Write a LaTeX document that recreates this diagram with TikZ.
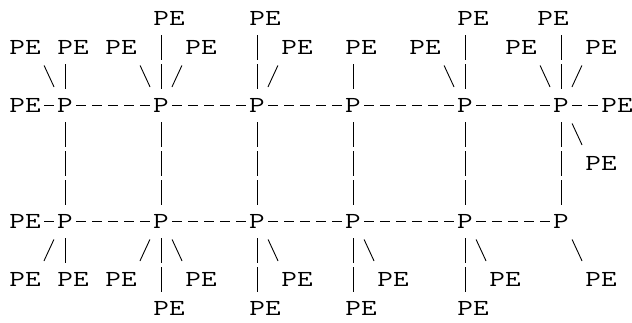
\documentclass[tikz,border=0pt]{standalone}
\usepackage{graphicx}
\newcommand{\asc}[1]{\scalebox{1.32}[1]{#1}}
\tikzset{
  glyph/.style={inner sep=0pt, outer sep=0pt, text height=14pt, text depth=0pt, anchor=base,
                font=\fontsize{23}{28}\selectfont\ttfamily},
  pnode/.style={glyph, minimum width=16pt},
  penode/.style={glyph, minimum width=32pt},
  conn/.style={line width=0.9pt, black},
  hdash/.style={conn, shorten <=3pt, shorten >=3pt, dash pattern=on 10pt off 6pt},
  vpipe/.style={conn, shorten <=9.5pt, shorten >=9.5pt, dash pattern=on 25pt off 4pt},
  diag/.style={conn, shorten <=12.1pt, shorten >=12.7pt},
}
\begin{document}
\begin{tikzpicture}[x=1pt,y=1pt]
\useasboundingbox (0,0) rectangle (632,-322);
% P nodes, top row (line 4) and bottom row (line 8)
\foreach \n/\c in {1/3,2/9,3/15,4/21,5/28,6/34}{
  \node[pnode] (pa\n) at ({16*\c+17},{-25.5-29*3}) {\asc{P}};
  \node[pnode] (pb\n) at ({16*\c+17},{-25.5-29*7}) {\asc{P}};
}
% PE nodes: name/start column/line
\foreach \n/\c/\l in {t1/9/1,t2/15/1,t3/28/1,t4/33/1,
  a1/0/2,a2/3/2,a3/6/2,a4/11/2,a5/17/2,a6/21/2,a7/25/2,a8/31/2,a9/36/2,
  l4/0/4,r4/37/4,r6/36/6,l8/0/8,
  b1/0/10,b2/3/10,b3/6/10,b4/11/10,b5/17/10,b6/23/10,b7/30/10,b8/36/10,
  u1/9/11,u2/15/11,u3/21/11,u4/28/11}{
  \node[penode] (\n) at ({16*\c+25},{-25.5-29*(\l-1)}) {\asc{PE}};
}
% horizontal links
\draw[hdash] (l4) -- (pa1);
\draw[hdash] (pa1) -- (pa2);
\draw[hdash] (pa2) -- (pa3);
\draw[hdash] (pa3) -- (pa4);
\draw[hdash] (pa4) -- (pa5);
\draw[hdash] (pa5) -- (pa6);
\draw[hdash] (pa6) -- (r4);
\draw[hdash] (l8) -- (pb1);
\draw[hdash] (pb1) -- (pb2);
\draw[hdash] (pb2) -- (pb3);
\draw[hdash] (pb3) -- (pb4);
\draw[hdash] (pb4) -- (pb5);
\draw[hdash] (pb5) -- (pb6);
% vertical links between rows
\foreach \n in {1,...,6}{ \draw[vpipe] (pa\n.south) -- (pb\n.north); }
% top pipes
\draw[vpipe] (t1.south -| pa2) -- (pa2.north);
\draw[vpipe] (t2.south -| pa3) -- (pa3.north);
\draw[vpipe] (t3.south -| pa5) -- (pa5.north);
\draw[vpipe] (t4.south -| pa6) -- (pa6.north);
\draw[vpipe] (a2.south -| pa1) -- (pa1.north);
\draw[vpipe] (a6.south -| pa4) -- (pa4.north);
% top diagonals
\draw[diag] ([xshift=-2pt]a1.south east) -- ([xshift=2.4pt]pa1.north west);
\draw[diag] ([xshift=-2pt]a3.south east) -- ([xshift=2.4pt]pa2.north west);
\draw[diag] ([xshift=2pt]a4.south west) -- ([xshift=-2.4pt]pa2.north east);
\draw[diag] ([xshift=2pt]a5.south west) -- ([xshift=-2.4pt]pa3.north east);
\draw[diag] ([xshift=-2pt]a7.south east) -- ([xshift=2.4pt]pa5.north west);
\draw[diag] ([xshift=-2pt]a8.south east) -- ([xshift=2.4pt]pa6.north west);
\draw[diag] ([xshift=2pt]a9.south west) -- ([xshift=-2.4pt]pa6.north east);
% right diagonal
\draw[diag] ([xshift=-2pt]pa6.south east) -- ([xshift=2.4pt]r6.north west);
% bottom diagonals
\draw[diag] ([xshift=2pt]pb1.south west) -- ([xshift=-2.4pt]b1.north east);
\draw[diag] ([xshift=2pt]pb2.south west) -- ([xshift=-2.4pt]b3.north east);
\draw[diag] ([xshift=-2pt]pb2.south east) -- ([xshift=2.4pt]b4.north west);
\draw[diag] ([xshift=-2pt]pb3.south east) -- ([xshift=2.4pt]b5.north west);
\draw[diag] ([xshift=-2pt]pb4.south east) -- ([xshift=2.4pt]b6.north west);
\draw[diag] ([xshift=-2pt]pb5.south east) -- ([xshift=2.4pt]b7.north west);
\draw[diag] ([xshift=-2pt]pb6.south east) -- ([xshift=2.4pt]b8.north west);
% bottom pipes
\draw[vpipe] (pb1.south) -- (b2.north -| pb1);
\draw[vpipe] (pb2.south) -- (u1.north -| pb2);
\draw[vpipe] (pb3.south) -- (u2.north -| pb3);
\draw[vpipe] (pb4.south) -- (u3.north -| pb4);
\draw[vpipe] (pb5.south) -- (u4.north -| pb5);
\end{tikzpicture}
\end{document}
